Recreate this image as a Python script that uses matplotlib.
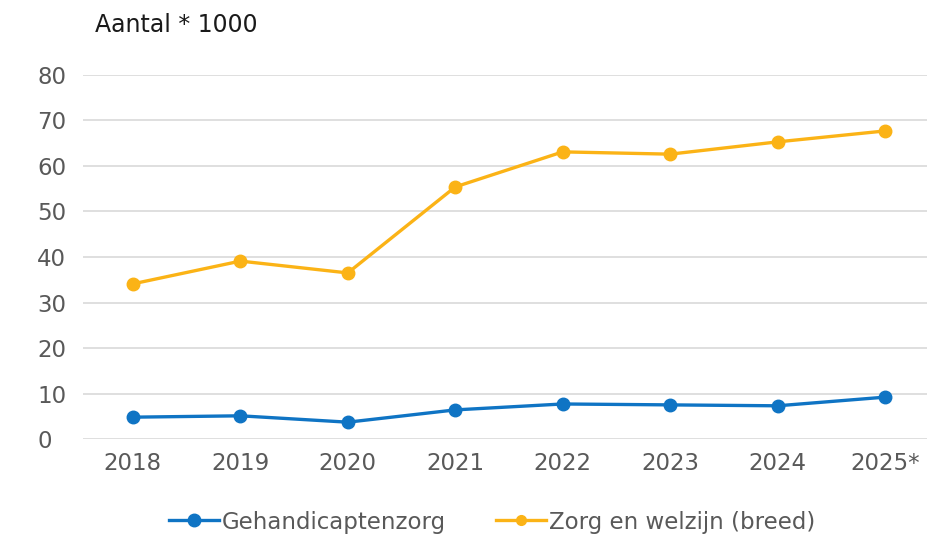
import matplotlib
matplotlib.use("Agg")
import matplotlib.pyplot as plt
from matplotlib.lines import Line2D

years = ["2018", "2019", "2020", "2021", "2022", "2023", "2024", "2025*"]
gehandicaptenzorg = [4.8, 5.1, 3.7, 6.4, 7.7, 7.5, 7.3, 9.2]
zorg_welzijn = [34.1, 39.1, 36.5, 55.4, 63.1, 62.6, 65.3, 67.7]
yticks = [0, 10, 20, 30, 40, 50, 60, 70, 80]

blue = "#0f74c4"
orange = "#fbb316"

plt.rcParams['font.family'] = ['DejaVu Sans']
fig = plt.figure(figsize=(9.28, 5.39), dpi=100)
ax = fig.add_axes([0.0894, 0.1855, 0.9106, 0.6754])

x = list(range(len(years)))
ax.plot(x, gehandicaptenzorg, color=blue, lw=2.4, marker="o", ms=9, clip_on=False, zorder=3)
ax.plot(x, zorg_welzijn, color=orange, lw=2.4, marker="o", ms=9, clip_on=False, zorder=3)

ax.set_xlim(-0.465, 7.4)
ax.set_ylim(0, 80)
ax.set_yticks(yticks)
ax.set_xticks(x)
ax.set_xticklabels(years)
ax.grid(axis="y", color="#d9d9d9", lw=1.2)
ax.set_axisbelow(True)
for s in ax.spines.values():
    s.set_visible(False)
ax.tick_params(length=0, labelsize=16.5, colors="#595959")
ax.tick_params(axis="x", pad=9)
for lbl in ax.get_yticklabels():
    lbl.set_horizontalalignment("left")
ax.tick_params(axis="y", pad=33)

fig.text(95/928, 1 - 25/539, "Aantal * 1000", fontsize=17, color="#1a1a1a", va="center", ha="left")

handles = [Line2D([0], [0], color=blue, lw=2.4, marker="o", ms=9),
           Line2D([0], [0], color=orange, lw=2.4, marker="o", ms=7)]
fig.legend(handles, ["Gehandicaptenzorg", "Zorg en welzijn (breed)"],
           loc="center", bbox_to_anchor=(0.53, 1 - 522/539), ncol=2, frameon=False,
           fontsize=16.5, labelcolor="#595959", handlelength=2.2, handletextpad=0.1,
           columnspacing=2.2)

fig.savefig("out.png", dpi=100)
